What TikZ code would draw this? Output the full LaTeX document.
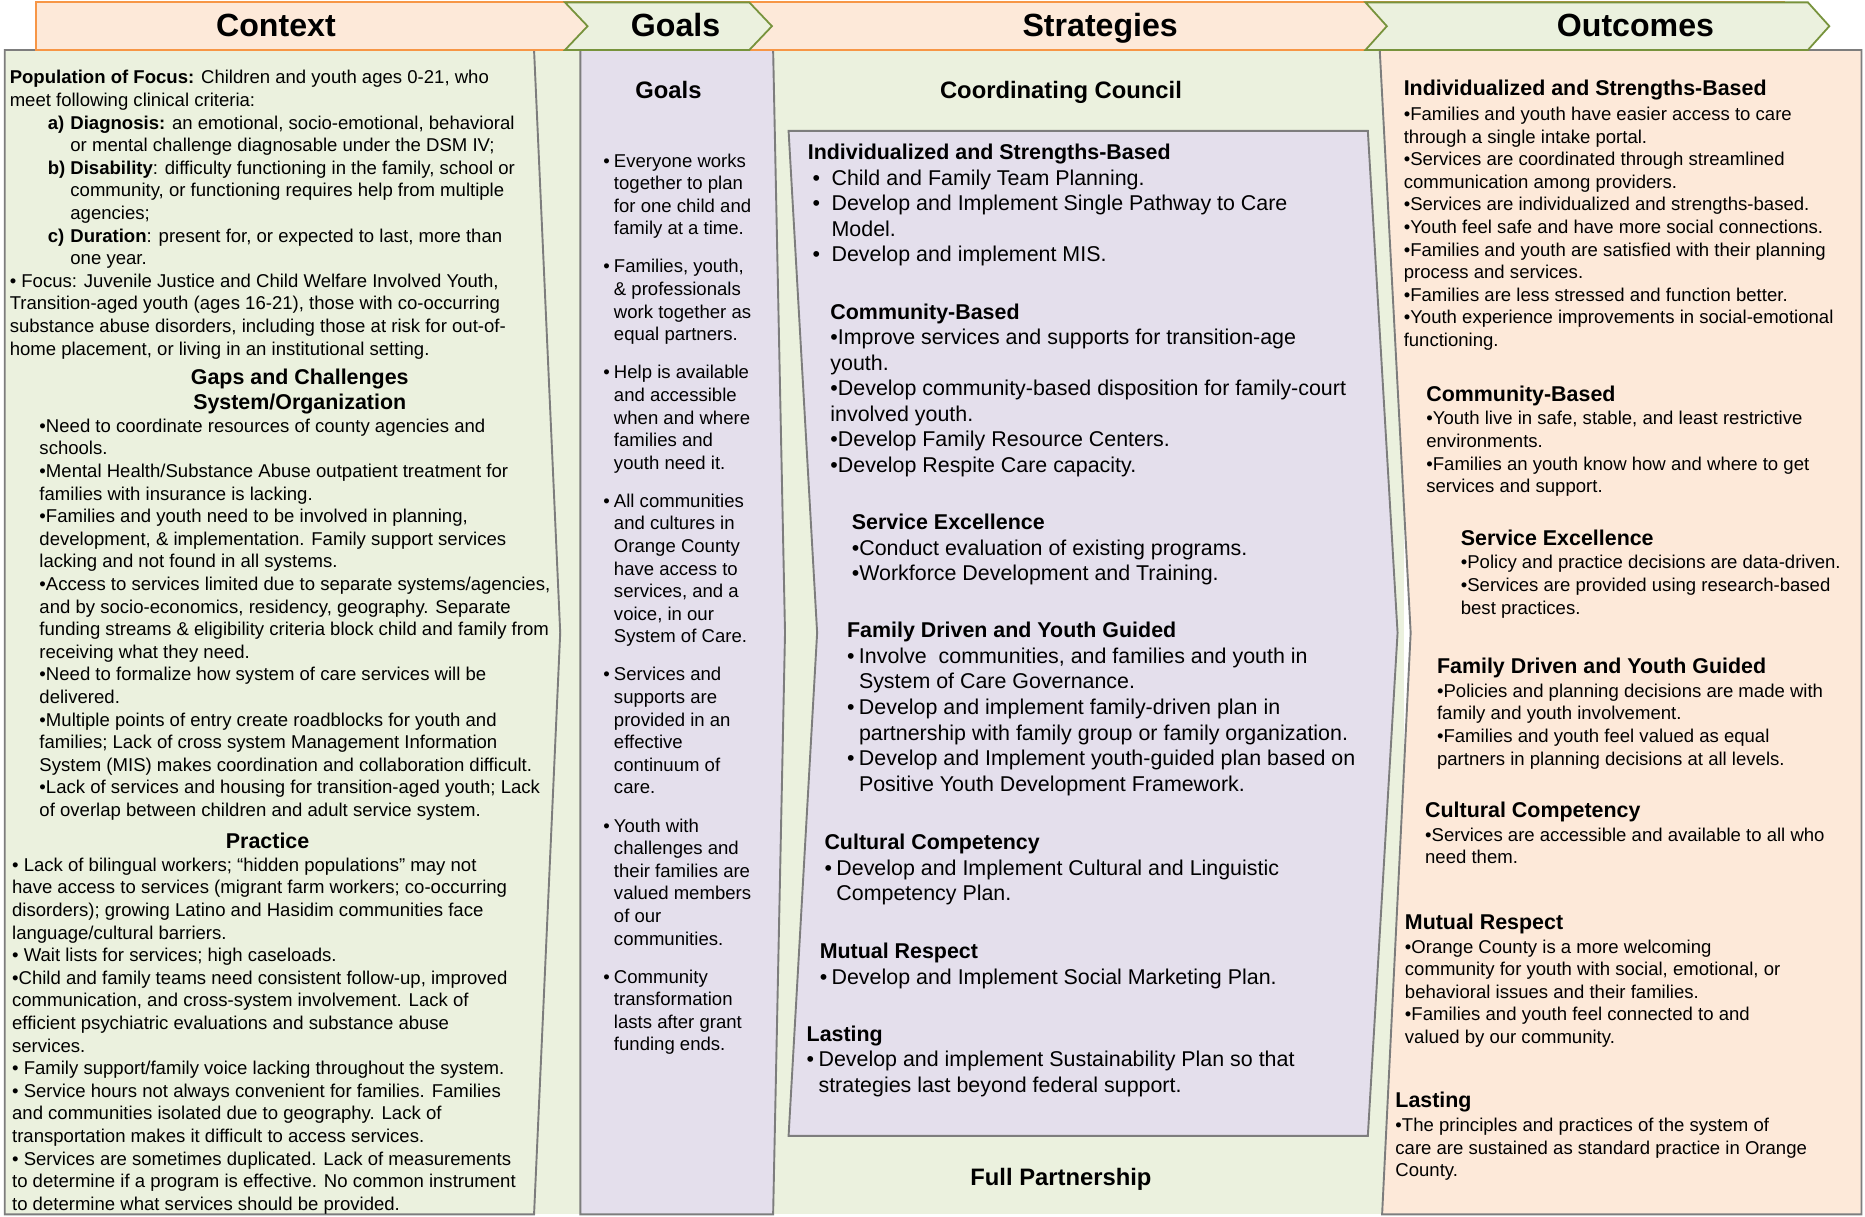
\documentclass[tikz,border=0pt]{standalone}
\usepackage{fontspec}
\setmainfont{Liberation Sans}
\definecolor{ctxgreen}{RGB}{235,241,222}
\definecolor{goallav}{RGB}{228,223,236}
\definecolor{outpeach}{RGB}{253,233,217}
\definecolor{hdrorange}{RGB}{247,150,70}
\definecolor{hdrolive}{RGB}{119,147,60}
\definecolor{boxgray}{RGB}{125,125,125}
\newcommand{\critlabel}[1]{\makebox[19pt][l]{\textbf{#1}}}
\newcommand{\gbul}{\makebox[9pt][l]{•}}
\newcommand{\gind}{\hspace*{9pt}}
\newcommand{\sbul}{\hspace*{4pt}\makebox[16pt][l]{•}}
\newcommand{\sind}{\hspace*{20pt}}
\newcommand{\tbul}{\makebox[10pt][l]{•}}
\newcommand{\tind}{\hspace*{10pt}}
\newcommand{\ohead}[1]{{\fontsize{18}{19}\selectfont\bfseries #1}}
\begin{document}
\begin{tikzpicture}[x=1pt,y=-1pt,
    panel/.style={draw=boxgray, line width=1.6pt, line join=miter},
    chev/.style={fill=ctxgreen, draw=hdrolive, line width=1.5pt},
    hdr/.style={anchor=base, inner sep=0pt, font=\fontsize{27}{30}\selectfont\bfseries},
    colhead/.style={anchor=base, inner sep=0pt, font=\fontsize{20}{24}\selectfont\bfseries},
    subhead/.style={anchor=north, inner sep=0pt, align=center, font=\fontsize{18}{21}\selectfont\bfseries},
    body/.style={anchor=north west, inner sep=0pt, align=left, font=\fontsize{15.6}{19}\selectfont},
    strat/.style={anchor=north west, inner sep=0pt, align=left, font=\fontsize{18}{21.5}\selectfont}
]
\useasboundingbox[fill=white] (0,0) rectangle (1568,1023);

% panels
\fill[ctxgreen] (445,42) rectangle (1180,1021);
\filldraw[panel, fill=ctxgreen] (4,42) -- (449,42) -- (471,532) -- (449,1021) -- (4,1021) -- cycle;
\filldraw[panel, fill=goallav] (488,42) -- (650,42) -- (660,532) -- (650,1021) -- (488,1021) -- cycle;
\filldraw[panel, fill=goallav] (663,110) -- (1150,110) -- (1175,532) -- (1150,955) -- (663,955) -- (687,532) -- cycle;
\filldraw[panel, fill=outpeach] (1160,42) -- (1565,42) -- (1565,1021) -- (1162,1021) -- (1186,532) -- cycle;

% header band
\filldraw[fill=outpeach, draw=hdrorange, line width=1.8pt] (30,2) rectangle (1500,42);
\filldraw[chev] (475,2) -- (630,2) -- (649,22) -- (630,42) -- (475,42) -- (494,22) -- cycle;
\filldraw[chev] (1148,2) -- (1520,2) -- (1538,22) -- (1520,42) -- (1148,42) -- (1166,22) -- cycle;
\node[hdr] (hcontext) at (232,31) {Context};
\node[hdr] (hgoals) at (568,31) {Goals};
\node[hdr] (hstrat) at (925,31) {Strategies};
\node[hdr] (houtcomes) at (1375,31) {Outcomes};

% context column
\node[body] (ctxpop) at (8,59) {%
\textbf{Population of Focus:} Children and youth ages 0-21, who\\
meet following clinical criteria:\\
\hspace*{32pt}\critlabel{a)}\textbf{Diagnosis:} an emotional, socio-emotional, behavioral\\
\hspace*{51pt}or mental challenge diagnosable under the DSM IV;\\
\hspace*{32pt}\critlabel{b)}\textbf{Disability}: difficulty functioning in the family, school or\\
\hspace*{51pt}community, or functioning requires help from multiple\\
\hspace*{51pt}agencies;\\
\hspace*{32pt}\critlabel{c)}\textbf{Duration}: present for, or expected to last, more than\\
\hspace*{51pt}one year.\\
• Focus: Juvenile Justice and Child Welfare Involved Youth,\\
Transition-aged youth (ages 16-21), those with co-occurring\\
substance abuse disorders, including those at risk for out-of-\\
home placement, or living in an institutional setting.};
\node[subhead] (ctxgaps) at (252,310) {Gaps and Challenges\\System/Organization};
\node[body] (ctxsys) at (33,352) {%
•Need to coordinate resources of county agencies and\\
schools.\\
•Mental Health/Substance Abuse outpatient treatment for\\
families with insurance is lacking.\\
•Families and youth need to be involved in planning,\\
development, \& implementation. Family support services\\
lacking and not found in all systems.\\
•Access to services limited due to separate systems/agencies,\\
and by socio-economics, residency, geography. Separate\\
funding streams \& eligibility criteria block child and family from\\
receiving what they need.\\
•Need to formalize how system of care services will be\\
delivered.\\
•Multiple points of entry create roadblocks for youth and\\
families; Lack of cross system Management Information\\
System (MIS) makes coordination and collaboration difficult.\\
•Lack of services and housing for transition-aged youth; Lack\\
of overlap between children and adult service system.};
\node[subhead] (ctxpractice) at (225,700) {Practice};
\node[body] (ctxprac) at (10,721) {%
• Lack of bilingual workers; “hidden populations” may not\\
have access to services (migrant farm workers; co-occurring\\
disorders); growing Latino and Hasidim communities face\\
language/cultural barriers.\\
• Wait lists for services; high caseloads.\\
•Child and family teams need consistent follow-up, improved\\
communication, and cross-system involvement. Lack of\\
efficient psychiatric evaluations and substance abuse\\
services.\\
• Family support/family voice lacking throughout the system.\\
• Service hours not always convenient for families. Families\\
and communities isolated due to geography. Lack of\\
transportation makes it difficult to access services.\\
• Services are sometimes duplicated. Lack of measurements\\
to determine if a program is effective. No common instrument\\
to determine what services should be provided.};

% goals column
\node[colhead] (goaltitle) at (562,83) {Goals};
\node[body] (goallist) at (507,129) {%
\gbul Everyone works\\\gind together to plan\\\gind for one child and\\\gind family at a time.\\[13pt]
\gbul Families, youth,\\\gind \& professionals\\\gind work together as\\\gind equal partners.\\[13pt]
\gbul Help is available\\\gind and accessible\\\gind when and where\\\gind families and\\\gind youth need it.\\[13pt]
\gbul All communities\\\gind and cultures in\\\gind Orange County\\\gind have access to\\\gind services, and a\\\gind voice, in our\\\gind System of Care.\\[13pt]
\gbul Services and\\\gind supports are\\\gind provided in an\\\gind effective\\\gind continuum of\\\gind care.\\[13pt]
\gbul Youth with\\\gind challenges and\\\gind their families are\\\gind valued members\\\gind of our\\\gind communities.\\[13pt]
\gbul Community\\\gind transformation\\\gind lasts after grant\\\gind funding ends.};

% strategies column
\node[colhead] (council) at (892,83) {Coordinating Council};
\node[strat] (sind) at (679,121) {%
\textbf{Individualized and Strengths-Based}\\
\sbul Child and Family Team Planning.\\
\sbul Develop and Implement Single Pathway to Care\\
\sind Model.\\
\sbul Develop and implement MIS.};
\node[strat] (scomm) at (698,255) {%
\textbf{Community-Based}\\
•Improve services and supports for transition-age\\
youth.\\
•Develop community-based disposition for family-court\\
involved youth.\\
•Develop Family Resource Centers.\\
•Develop Respite Care capacity.};
\node[strat] (sserv) at (716,432) {%
\textbf{Service Excellence}\\
•Conduct evaluation of existing programs.\\
•Workforce Development and Training.};
\node[strat] (sfam) at (712,523) {%
\textbf{Family Driven and Youth Guided}\\
\tbul Involve\ \ communities, and families and youth in\\
\tind System of Care Governance.\\
\tbul Develop and implement family-driven plan in\\
\tind partnership with family group or family organization.\\
\tbul Develop and Implement youth-guided plan based on\\
\tind Positive Youth Development Framework.};
\node[strat] (scult) at (693,701) {%
\textbf{Cultural Competency}\\
\tbul Develop and Implement Cultural and Linguistic\\
\tind Competency Plan.};
\node[strat] (smut) at (689,793) {%
\textbf{Mutual Respect}\\
\tbul Develop and Implement Social Marketing Plan.};
\node[strat] (slast) at (678,862) {%
\textbf{Lasting}\\
\tbul Develop and implement Sustainability Plan so that\\
\tind strategies last beyond federal support.};
\node[colhead] (fullpart) at (892,997) {Full Partnership};

% outcomes column
\node[body] (oind) at (1180,67) {%
\ohead{Individualized and Strengths-Based}\\[2pt]
•Families and youth have easier access to care\\
through a single intake portal.\\
•Services are coordinated through streamlined\\
communication among providers.\\
•Services are individualized and strengths-based.\\
•Youth feel safe and have more social connections.\\
•Families and youth are satisfied with their planning\\
process and services.\\
•Families are less stressed and function better.\\
•Youth experience improvements in social-emotional\\
functioning.};
\node[body] (ocomm) at (1199,324) {%
\ohead{Community-Based}\\[1pt]
•Youth live in safe, stable, and least restrictive\\
environments.\\
•Families an youth know how and where to get\\
services and support.};
\node[body] (oserv) at (1228,445) {%
\ohead{Service Excellence}\\[1pt]
•Policy and practice decisions are data-driven.\\
•Services are provided using research-based\\
best practices.};
\node[body] (ofam) at (1208,553) {%
\ohead{Family Driven and Youth Guided}\\[1pt]
•Policies and planning decisions are made with\\
family and youth involvement.\\
•Families and youth feel valued as equal\\
partners in planning decisions at all levels.};
\node[body] (ocult) at (1198,674) {%
\ohead{Cultural Competency}\\[1pt]
•Services are accessible and available to all who\\
need them.};
\node[body] (omut) at (1181,768) {%
\ohead{Mutual Respect}\\[1pt]
•Orange County is a more welcoming\\
community for youth with social, emotional, or\\
behavioral issues and their families.\\
•Families and youth feel connected to and\\
valued by our community.};
\node[body] (olast) at (1173,918) {%
\ohead{Lasting}\\[1pt]
•The principles and practices of the system of\\
care are sustained as standard practice in Orange\\
County.};
\end{tikzpicture}
\end{document}
